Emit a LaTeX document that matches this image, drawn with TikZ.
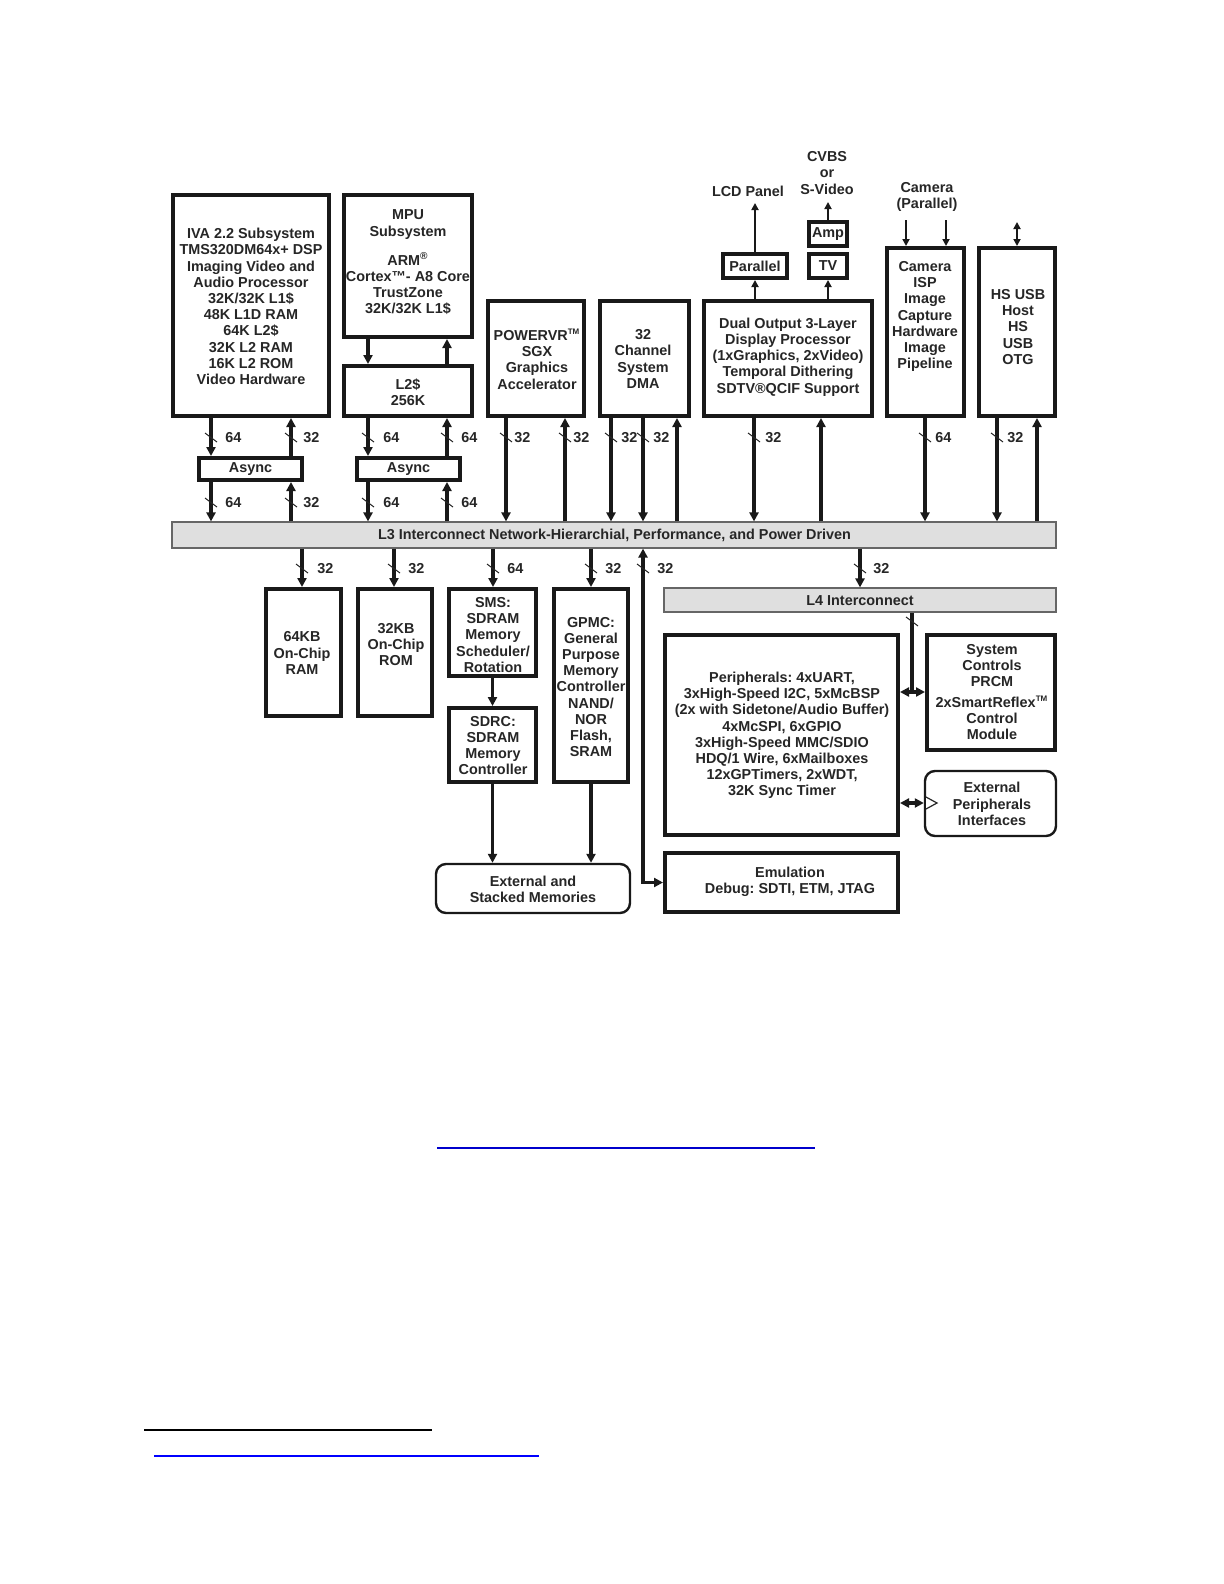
\documentclass[tikz,border=0pt]{standalone}
\usepackage{fontspec}
\setmainfont{Liberation Sans}
\usetikzlibrary{arrows.meta,fit}
\newcommand\bwtick[5]{%
  \draw[tickst] ({#1-6},{#2-5}) -- ({#1+6},{#2+4});
  \node[txt, anchor=west] (#5) at ({#1+#3},#2) {#4};}
\newcommand\smtm{\textsuperscript{\fontsize{4}{4}\selectfont TM}}
\begin{document}
\frenchspacing
\begin{tikzpicture}[x=0.5pt,y=-0.5pt,
  blk/.style={draw=black!90, line width=2pt, inner sep=0pt},
  rblk/.style={draw=black!90, line width=1.2pt, rounded corners=5pt, inner sep=0pt},
  bar/.style={draw=black!60, fill=gray!25, line width=0.6pt, inner sep=0pt},
  txt/.style={font=\fontsize{7.2}{8.1}\selectfont\bfseries\frenchspacing, align=center, text=black!85, inner sep=0pt},
  bus/.style={line width=1.8pt, draw=black!90, arrows={-Triangle[length=4.5pt,width=4.5pt]}},
  dbus/.style={line width=1.8pt, draw=black!90, arrows={Triangle[length=4.5pt,width=4.5pt]-Triangle[length=4.5pt,width=4.5pt]}},
  thinar/.style={line width=1pt, draw=black!90, arrows={-Triangle[length=3.5pt,width=3.5pt]}},
  dthinar/.style={line width=1pt, draw=black!90, arrows={Triangle[length=3.5pt,width=3.5pt]-Triangle[length=3.5pt,width=3.5pt]}},
  tickst/.style={line width=0.5pt, draw=black!85},
]
\useasboundingbox (0,0) rectangle (1224,1584);
\fill[white] (0,0) rectangle (1224,1584);

% ---------- top row boxes ----------
\node[blk, fit={(173,195)(329,416)}] (iva) {};
\node[txt] (ivat) at (251,306.5) {IVA 2.2 Subsystem\\TMS320DM64x+ DSP\\Imaging Video and\\Audio Processor\\32K/32K L1\$\\48K L1D RAM\\64K L2\$\\32K L2 RAM\\16K L2 ROM\\Video Hardware};

\node[blk, fit={(344,195)(472,337)}] (mpu) {};
\node[txt] (mput) at (408,262.5) {MPU\\Subsystem\\[6.5pt]ARM\textsuperscript{\textregistered}\\Cortex™- A8 Core\\TrustZone\\32K/32K L1\$};

\node[blk, fit={(344,366)(472,416)}] (l2) {};
\node[txt] (l2t) at (408,392) {L2\$\\256K};

\node[blk, fit={(488,301)(584,416)}] (pvr) {};
\node[txt] (pvrt) at (537,359) {POWERVR\smtm\\SGX\\Graphics\\Accelerator};

\node[blk, fit={(600,301)(689,416)}] (dma) {};
\node[txt] (dmat) at (643,359) {32\\Channel\\System\\DMA};

\node[blk, fit={(704,301)(872,416)}] (disp) {};
\node[txt] (dispt) at (788,357) {Dual Output 3-Layer\\Display Processor\\(1xGraphics, 2xVideo)\\Temporal Dithering\\SDTV\textregistered QCIF Support};

\node[blk, fit={(723,254)(787,278)}] (par) {};
\node[txt] (part) at (755,266) {Parallel};
\node[blk, fit={(809,254)(847,278)}] (tv) {};
\node[txt] (tvt) at (828,266) {TV};
\node[blk, fit={(809,222)(847,246)}] (amp) {};
\node[txt] (ampt) at (828,234) {Amp};

\node[blk, fit={(887,248)(964,416)}] (cam) {};
\node[txt] (camt) at (925,316.5) {Camera\\ISP\\Image\\Capture\\Hardware\\Image\\Pipeline};

\node[blk, fit={(979,248)(1055,416)}] (usb) {};
\node[txt] (usbt) at (1018,327) {HS USB\\Host\\HS\\USB\\OTG};

% top labels
\node[txt] (lcd) at (748,191) {LCD Panel};
\node[txt] (cvbs) at (827,173) {CVBS\\or\\S-Video};
\node[txt] (camp) at (927,197) {Camera\\(Parallel)};

% ---------- async boxes and L3 ----------
\node[blk, fit={(199,458)(302,480)}] (as1) {};
\node[txt] (as1t) at (250.5,469) {Async};
\node[blk, fit={(357,458)(460,480)}] (as2) {};
\node[txt] (as2t) at (408.5,469) {Async};

\node[bar, fit={(172,522)(1056,548)}] (l3) {};
\node[txt] (l3t) at (614.5,535) {L3 Interconnect Network-Hierarchial, Performance, and Power Driven};

% ---------- lower boxes ----------
\node[blk, fit={(266,589)(341,716)}] (ram) {};
\node[txt] (ramt) at (302,653) {64KB\\On-Chip\\RAM};
\node[blk, fit={(358,589)(432,716)}] (rom) {};
\node[txt] (romt) at (396,644.5) {32KB\\On-Chip\\ROM};
\node[blk, fit={(449,589)(536,676)}] (sms) {};
\node[txt] (smst) at (493,635) {SMS:\\SDRAM\\Memory\\Scheduler/\\Rotation};
\node[blk, fit={(449,708)(536,782)}] (sdrc) {};
\node[txt] (sdrct) at (493,745.5) {SDRC:\\SDRAM\\Memory\\Controller};
\node[blk, fit={(554,589)(628,782)}] (gpmc) {};
\node[txt] (gpmct) at (591,687) {GPMC:\\General\\Purpose\\Memory\\Controller\\NAND/\\NOR\\Flash,\\SRAM};
\node[rblk, fit={(436,864)(630,913)}] (extmem) {};
\node[txt] (extmemt) at (533,889) {External and\\Stacked Memories};

\node[bar, fit={(664,588)(1056,612)}] (l4) {};
\node[txt] (l4t) at (860,601) {L4 Interconnect};
\node[blk, fit={(665,635)(898,835)}] (periph) {};
\node[txt] (peripht) at (782,735.5) {Peripherals: 4xUART,\\3xHigh-Speed I2C, 5xMcBSP\\(2x with Sidetone/Audio Buffer)\\4xMcSPI, 6xGPIO\\3xHigh-Speed MMC/SDIO\\HDQ/1 Wire, 6xMailboxes\\12xGPTimers, 2xWDT,\\32K Sync Timer};
\node[blk, fit={(665,853)(898,912)}] (emu) {};
\node[txt] (emut) at (790,882) {Emulation\\Debug: SDTI, ETM, JTAG};
\node[blk, fit={(927,635)(1055,750)}] (sysctl) {};
\node[txt] (sysctlt) at (992,692) {System\\Controls\\PRCM\\[2pt]2xSmartReflex\smtm\\Control\\Module};
\node[rblk, fit={(925,771)(1056,836)}] (extper) {};
\node[txt] (extpert) at (992,804) {External\\Peripherals\\Interfaces};

% ---------- top connectors ----------
\coordinate (lcdend) at (755,203);
\coordinate (cvbsend) at (828,202);
\coordinate (camin1) at (906,220);
\coordinate (camin2) at (946,220);
\coordinate (usbend) at (1017,222);
\draw[thinar] (par.south |- disp.north) -- (par.south);
\draw[thinar] (par.north) -- (lcdend);
\draw[thinar] (tv.south |- disp.north) -- (tv.south);
\draw[thinar] (amp.north) -- (cvbsend);
\draw[thinar] (camin1) -- (camin1 |- cam.north);
\draw[thinar] (camin2) -- (camin2 |- cam.north);
\draw[dthinar] (usbend) -- (usbend |- usb.north);

% ---------- buses above L3 ----------
\draw[bus] (211,0 |- iva.south) -- (211,0 |- as1.north);
\draw[bus] (291,0 |- as1.north) -- (291,0 |- iva.south);
\draw[bus] (211,0 |- as1.south) -- (211,0 |- l3.north);
\draw[bus] (291,0 |- l3.north) -- (291,0 |- as1.south);
\draw[bus] (368,0 |- mpu.south) -- (368,0 |- l2.north);
\draw[bus] (447,0 |- l2.north) -- (447,0 |- mpu.south);
\draw[bus] (368,0 |- l2.south) -- (368,0 |- as2.north);
\draw[bus] (447,0 |- as2.north) -- (447,0 |- l2.south);
\draw[bus] (368,0 |- as2.south) -- (368,0 |- l3.north);
\draw[bus] (447,0 |- l3.north) -- (447,0 |- as2.south);
\draw[bus] (506,0 |- pvr.south) -- (506,0 |- l3.north);
\draw[bus] (565,0 |- l3.north) -- (565,0 |- pvr.south);
\draw[bus] (611,0 |- dma.south) -- (611,0 |- l3.north);
\draw[bus] (643,0 |- dma.south) -- (643,0 |- l3.north);
\draw[bus] (677,0 |- l3.north) -- (677,0 |- dma.south);
\draw[bus] (754,0 |- disp.south) -- (754,0 |- l3.north);
\draw[bus] (821,0 |- l3.north) -- (821,0 |- disp.south);
\draw[bus] (925,0 |- cam.south) -- (925,0 |- l3.north);
\draw[bus] (997,0 |- usb.south) -- (997,0 |- l3.north);
\draw[bus] (1037,0 |- l3.north) -- (1037,0 |- usb.south);

% ---------- buses below L3 ----------
\draw[bus] (302,0 |- l3.south) -- (302,0 |- ram.north);
\draw[bus] (394,0 |- l3.south) -- (394,0 |- rom.north);
\draw[bus] (493,0 |- l3.south) -- (493,0 |- sms.north);
\draw[bus] (591,0 |- l3.south) -- (591,0 |- gpmc.north);
\draw[bus] (860,0 |- l3.south) -- (860,0 |- l4.north);
\draw[dbus] (643,0 |- l3.south) |- (emu.west);
\draw[bus] (sms.south) -- (sdrc.north);
\draw[bus] (sdrc.south) -- (sdrc.south |- extmem.north);
\draw[bus] (gpmc.south) -- (gpmc.south |- extmem.north);

\coordinate (j4) at (912,692);
\coordinate (j5) at (912,803);
\draw[line width=1.8pt, draw=black!90] (j4 |- l4.south) -- (j4);
\draw[dbus] (periph.east |- j4) -- (sysctl.west |- j4);
\draw[dbus] (periph.east |- j5) -- (extper.west |- j5);
\draw[line width=0.6pt, draw=black!85, fill=white] (926,797) -- (937,803) -- (926,809);
\draw[tickst] (906,617) -- (918,626);

% ---------- width labels ----------
\bwtick{211}{438}{14}{64}{w1}
\bwtick{291}{438}{12}{32}{w2}
\bwtick{211}{503}{14}{64}{w3}
\bwtick{291}{503}{12}{32}{w4}
\bwtick{368}{438}{15}{64}{w5}
\bwtick{447}{438}{14}{64}{w6}
\bwtick{368}{503}{15}{64}{w7}
\bwtick{447}{503}{14}{64}{w8}
\bwtick{506}{438}{8}{32}{w9}
\bwtick{565}{438}{8}{32}{w10}
\bwtick{611}{438}{10}{32}{w11}
\bwtick{643}{438}{10}{32}{w12}
\bwtick{754}{438}{11}{32}{w13}
\bwtick{925}{438}{10}{64}{w14}
\bwtick{997}{438}{10}{32}{w15}
\bwtick{302}{569}{15}{32}{w16}
\bwtick{394}{569}{14}{32}{w17}
\bwtick{493}{569}{14}{64}{w18}
\bwtick{591}{569}{14}{32}{w19}
\bwtick{643}{569}{14}{32}{w20}
\bwtick{860}{569}{13}{32}{w21}

% ---------- footer lines ----------
\draw[line width=0.6pt, draw=blue!80!black] (437,1148) -- (815,1148);
\draw[line width=0.6pt, draw=black] (144,1430) -- (432,1430);
\draw[line width=1pt, draw=blue] (154,1456) -- (539,1456);
\end{tikzpicture}
\end{document}
